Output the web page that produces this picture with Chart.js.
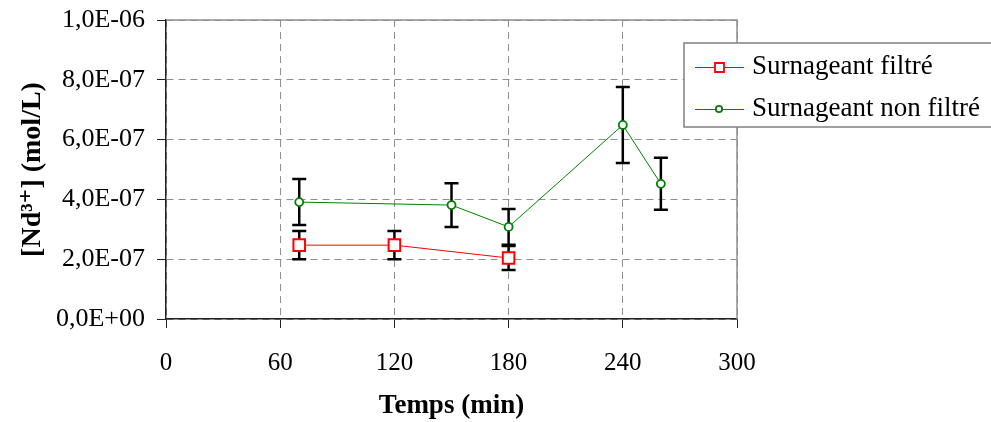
<!DOCTYPE html>
<html>
<head>
<meta charset="utf-8">
<script src="https://cdn.jsdelivr.net/npm/chart.js@4"></script>
<style>
  html, body { margin: 0; padding: 0; background: #fff; }
  canvas { display: block; }
</style>
</head>
<body>
<canvas id="chart" width="991" height="422"></canvas>
<script>
const seriesNames = ['Surnageant filtré', 'Surnageant non filtré'];
const timesFiltre = [70, 120, 180];
const concFiltre = [2.47e-7, 2.47e-7, 2.04e-7];
const errFiltre = [0.47e-7, 0.47e-7, 0.40e-7];
const timesNonFiltre = [70, 150, 180, 240, 260];
const concNonFiltre = [3.91e-7, 3.81e-7, 3.08e-7, 6.49e-7, 4.52e-7];
const errNonFiltre = [0.77e-7, 0.73e-7, 0.60e-7, 1.27e-7, 0.87e-7];
const xTicks = [0, 60, 120, 180, 240, 300];
const yTicks = [0, 2e-7, 4e-7, 6e-7, 8e-7, 1e-6];

const serif = '"Liberation Serif", "DejaVu Serif", serif';

// 1.0e-6 -> "1,0E-06"
function sci(v) {
    const [m, e] = v.toExponential(1).split('e');
    const n = parseInt(e, 10);
    return m.replace('.', ',') + 'E' + (n < 0 ? '-' : '+') + String(Math.abs(n)).padStart(2, '0');
}

const toPoints = (xs, ys) => xs.map((x, i) => ({ x: x, y: ys[i] }));

// gray frame on top and right of the plot
const frame = {
    id: 'frame',
    beforeDatasetsDraw(chart) {
        const { ctx, chartArea: a } = chart;
        ctx.save();
        ctx.strokeStyle = '#909090';
        ctx.lineWidth = 1.5;
        ctx.beginPath();
        ctx.moveTo(a.left, a.top);
        ctx.lineTo(a.right, a.top);
        ctx.lineTo(a.right, a.bottom);
        ctx.stroke();
        ctx.restore();
    }
};

const errorBars = {
    id: 'errorBars',
    beforeDatasetsDraw(chart) {
        const { ctx, scales: { x, y } } = chart;
        ctx.save();
        ctx.strokeStyle = '#000';
        ctx.lineWidth = 2.5;
        chart.data.datasets.forEach(ds => {
            ds.data.forEach((p, i) => {
                const px = x.getPixelForValue(p.x);
                const top = y.getPixelForValue(p.y + ds.errors[i]);
                const bot = y.getPixelForValue(p.y - ds.errors[i]);
                ctx.beginPath();
                ctx.moveTo(px, top); ctx.lineTo(px, bot);
                ctx.moveTo(px - 7, top); ctx.lineTo(px + 7, top);
                ctx.moveTo(px - 7, bot); ctx.lineTo(px + 7, bot);
                ctx.stroke();
            });
        });
        ctx.restore();
    }
};

// legend box overlapping the right of the plot
const boxLegend = {
    id: 'boxLegend',
    afterDraw(chart) {
        const ctx = chart.ctx;
        const bx = 684, by = 43, bw = 312, bh = 84;
        ctx.save();
        ctx.fillStyle = '#fff';
        ctx.fillRect(bx, by, bw, bh);
        ctx.strokeStyle = '#808080';
        ctx.lineWidth = 1.5;
        ctx.strokeRect(bx, by, bw, bh);
        chart.data.datasets.forEach((ds, i) => {
            const ry = by + 24 + i * 42;
            ctx.strokeStyle = ds.borderColor;
            ctx.lineWidth = 1;
            ctx.beginPath();
            ctx.moveTo(695, ry + 0.5);
            ctx.lineTo(744, ry + 0.5);
            ctx.stroke();
            ctx.lineWidth = 1.8;
            ctx.fillStyle = '#fff';
            ctx.beginPath();
            if (ds.pointStyle === 'rect') {
                ctx.rect(715, ry - 4, 9, 9);
            } else {
                ctx.arc(719, ry, 3.2, 0, Math.PI * 2);
            }
            ctx.fill();
            ctx.stroke();
            ctx.fillStyle = '#000';
            ctx.font = '27px ' + serif;
            ctx.textBaseline = 'middle';
            ctx.fillText(ds.label, 752, ry);
        });
        ctx.restore();
    }
};

new Chart(document.getElementById('chart'), {
    type: 'scatter',
    data: {
        datasets: [
            {
                label: seriesNames[0],
                data: toPoints(timesFiltre, concFiltre),
                errors: errFiltre,
                showLine: true,
                borderColor: '#ff0000',
                borderWidth: 1,
                pointStyle: 'rect',
                pointRadius: 8.2,
                pointBorderWidth: 2,
                pointBackgroundColor: '#fff',
                pointBorderColor: '#ff0000'
            },
            {
                label: seriesNames[1],
                data: toPoints(timesNonFiltre, concNonFiltre),
                errors: errNonFiltre,
                showLine: true,
                borderColor: '#008000',
                borderWidth: 1,
                pointStyle: 'circle',
                pointRadius: 4,
                pointBorderWidth: 1.8,
                pointBackgroundColor: '#fff',
                pointBorderColor: '#008000'
            }
        ]
    },
    options: {
        responsive: false,
        animation: false,
        devicePixelRatio: 1,
        layout: { padding: { top: 20, right: 254, left: 0, bottom: 0 } },
        plugins: {
            legend: { display: false },
            tooltip: { enabled: false }
        },
        scales: {
            x: {
                type: 'linear',
                min: 0,
                max: 300,
                afterBuildTicks: s => { s.ticks = xTicks.map(v => ({ value: v })); },
                afterFit: s => { s.height = 103; s.paddingLeft = 0; s.paddingRight = 0; },
                grid: { color: '#909090', lineWidth: 1, tickLength: 9, tickColor: '#222' },
                border: { color: '#222', width: 1.5, dash: [7, 5] },
                ticks: { color: '#000', padding: 20, font: { family: serif, size: 25 } },
                title: {
                    display: true,
                    text: 'Temps (min)',
                    color: '#000',
                    padding: { top: 0, bottom: 0 },
                    font: { family: serif, size: 27, weight: 'bold' }
                }
            },
            y: {
                min: 0,
                max: 1e-6,
                afterBuildTicks: s => { s.ticks = yTicks.map(v => ({ value: v })); },
                afterFit: s => { s.width = 166; s.paddingTop = 0; s.paddingBottom = 0; },
                grid: { color: '#909090', lineWidth: 1, tickLength: 9, tickColor: '#222' },
                border: { color: '#222', width: 1.5, dash: [7, 5] },
                ticks: {
                    color: '#000',
                    padding: 12,
                    font: { family: serif, size: 26 },
                    callback: v => sci(v)
                },
                title: {
                    display: true,
                    text: '[Nd³⁺] (mol/L)',
                    color: '#000',
                    padding: { top: 16, bottom: 0 },
                    font: { family: serif, size: 28, weight: 'bold' }
                }
            }
        }
    },
    plugins: [frame, errorBars, boxLegend]
});
</script>
</body>
</html>
